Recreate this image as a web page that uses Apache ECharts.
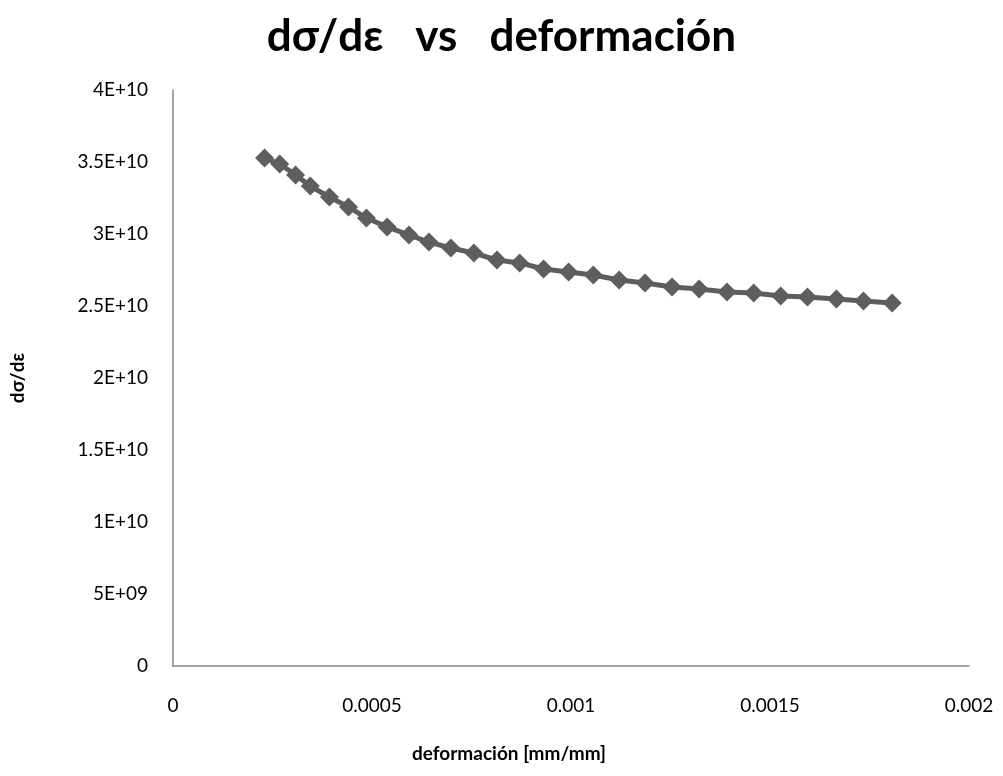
<!DOCTYPE html>
<html>
<head>
<meta charset="utf-8">
<script src="https://cdn.jsdelivr.net/npm/echarts@6/dist/echarts.min.js"></script>
<style>
html,body{margin:0;padding:0;background:#fff;}
#chart{width:1003px;height:776px;}
</style>
</head>
<body>
<div id="chart"></div>
<script>
const strain = [0.000230,0.000268,0.000308,0.000345,0.000393,0.000441,0.000486,0.000538,0.000593,0.000643,0.000698,0.000756,0.000814,0.000871,0.000931,0.000994,0.001056,0.001121,0.001186,0.001254,0.001322,0.001392,0.001459,0.001527,0.001594,0.001667,0.001735,0.001807];
const dSigmaDeps = [3.528e10,3.486e10,3.410e10,3.333e10,3.257e10,3.188e10,3.111e10,3.049e10,2.993e10,2.944e10,2.903e10,2.868e10,2.819e10,2.799e10,2.757e10,2.736e10,2.715e10,2.681e10,2.660e10,2.632e10,2.618e10,2.597e10,2.590e10,2.569e10,2.563e10,2.549e10,2.535e10,2.521e10];
const xTickLabels = ['0','0.0005','0.001','0.0015','0.002'];
const yTickLabels = ['0','5E+09','1E+10','1.5E+10','2E+10','2.5E+10','3E+10','3.5E+10','4E+10'];

const chart = echarts.init(document.getElementById('chart'));
const FONT = 'Lato';
chart.setOption({
  backgroundColor:'#ffffff',
  animation:false,
  title:{
    text:'dσ/dε   vs   deformación',
    left:'center', top:10,
    textStyle:{fontFamily:FONT,fontWeight:'bold',fontSize:44,color:'#000'}
  },
  grid:{left:170,right:34,top:90,bottom:110},
  xAxis:{
    type:'value',min:0,max:0.002,interval:0.0005,
    name:'deformación [mm/mm]',nameLocation:'middle',nameGap:78,
    nameTextStyle:{fontFamily:FONT,fontWeight:'bold',fontSize:19,color:'#000',padding:[0,124,0,0]},
    axisLine:{show:true,lineStyle:{color:'#868686',width:1.5}},
    axisTick:{show:false},
    splitLine:{show:false},
    axisLabel:{fontFamily:FONT,fontSize:19,color:'#000',margin:30,
      formatter:(v,i)=>xTickLabels[i]}
  },
  yAxis:{
    type:'value',min:0,max:4e10,interval:5e9,
    name:'dσ/dε',nameLocation:'middle',nameGap:146,nameRotate:90,
    nameTextStyle:{fontFamily:FONT,fontWeight:'bold',fontSize:19,color:'#000'},
    axisLine:{show:true,lineStyle:{color:'#868686',width:1.5}},
    axisTick:{show:false},
    splitLine:{show:false},
    axisLabel:{fontFamily:FONT,fontSize:19,color:'#000',margin:25,
      formatter:(v,i)=>yTickLabels[i]}
  },
  series:[{
    type:'line',
    data:strain.map((x,i)=>[x,dSigmaDeps[i]]),
    symbol:'diamond',symbolSize:19,
    lineStyle:{color:'#5e5e5e',width:5},
    itemStyle:{color:'#5e5e5e'}
  }]
});
</script>
</body>
</html>
